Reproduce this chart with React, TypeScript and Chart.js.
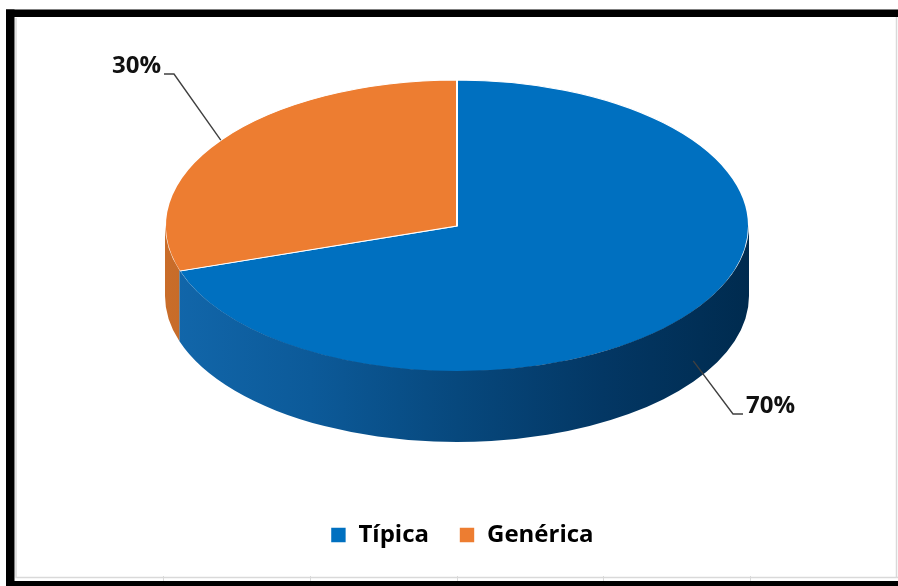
import { useEffect, useRef } from "react";
import { Chart, registerables } from "chart.js";

Chart.register(...registerables);

// Series
const categories = ["Típica", "Genérica"];
const shares = [70, 30];

// Colours: top face and side-wall gradient per slice
const faceColors = ["#0070C0", "#ED7D31"];
const wallStops: string[][] = [
  ["#1267ab", "#0c5a99", "#07487d", "#033764", "#002b4f"],
  ["#c96d2a", "#b75f21", "#a3521b", "#8f4616", "#7d3c12"],
];

// Tilted-disc geometry on the canvas
const DISC = { cx: 457, cy: 226, rx: 292, ry: 146, depth: 70 };

// Where each percentage label sits (elbow of the leader line and text anchor)
const LABEL_SPOTS = [
  { elbow: [733, 414], end: [743, 414], align: "left" as CanvasTextAlign },
  { elbow: [174, 74], end: [164, 74], align: "right" as CanvasTextAlign },
];

const FONT = "'Open Sans', 'DejaVu Sans', sans-serif";

const framePlugin = {
  id: "frame",
  beforeDraw(chart: any) {
    const { ctx, width, height } = chart;
    ctx.save();
    ctx.fillStyle = "#ffffff";
    ctx.fillRect(0, 0, width, height);
    // light inner border
    ctx.strokeStyle = "#d9d9d9";
    ctx.lineWidth = 1.5;
    ctx.beginPath();
    ctx.moveTo(16, 18);
    ctx.lineTo(16, 577.5);
    ctx.lineTo(898, 577.5);
    ctx.moveTo(896.5, 17);
    ctx.lineTo(896.5, 578);
    ctx.stroke();
    ctx.lineWidth = 1;
    [163, 310, 457, 603, 750].forEach((x) => {
      ctx.beginPath();
      ctx.moveTo(x + 0.5, 576);
      ctx.lineTo(x + 0.5, 581);
      ctx.stroke();
    });
    // heavy black frame
    ctx.fillStyle = "#000000";
    ctx.fillRect(6, 9.5, 892, 7.5);
    ctx.fillRect(6, 9.5, 8.5, 577);
    ctx.fillRect(6, 581, 892, 5);
    ctx.restore();
  },
};

const tiltPlugin = {
  id: "tilt",
  beforeDatasetsDraw(chart: any) {
    const arc = chart.getDatasetMeta(0).data[0];
    const { ctx } = chart;
    ctx.save();
    ctx.translate(DISC.cx, DISC.cy);
    ctx.scale(DISC.rx / arc.outerRadius, DISC.ry / arc.outerRadius);
    ctx.translate(-arc.x, -arc.y);
  },
  afterDatasetsDraw(chart: any) {
    const { ctx } = chart;
    ctx.restore();
    const { cx, cy, rx, ry, depth } = DISC;
    const meta = chart.getDatasetMeta(0);
    const values: number[] = chart.data.datasets[0].data;
    const total = values.reduce((a, b) => a + b, 0);

    // side walls for the front half of the disc
    meta.data.forEach((el: any, i: number) => {
      const a0 = Math.max(el.startAngle, 0);
      const a1 = Math.min(el.endAngle, Math.PI);
      if (a1 <= a0) return;
      const g = ctx.createLinearGradient(cx - rx, 0, cx + rx, 0);
      const stops = wallStops[i];
      stops.forEach((c, k) => g.addColorStop(k / (stops.length - 1), c));
      ctx.save();
      ctx.fillStyle = g;
      ctx.beginPath();
      ctx.ellipse(cx, cy - 1, rx, ry, 0, a0, a1);
      ctx.lineTo(cx + rx * Math.cos(a1), cy + depth + ry * Math.sin(a1));
      ctx.ellipse(cx, cy + depth, rx, ry, 0, a1, a0, true);
      ctx.closePath();
      ctx.fill();
      ctx.restore();
    });

    // percentage labels with leader lines
    meta.data.forEach((el: any, i: number) => {
      const mid = (el.startAngle + el.endAngle) / 2;
      const ax = cx + rx * Math.cos(mid);
      let ay = cy + ry * Math.sin(mid);
      if (Math.sin(mid) > 0) ay += depth * 0.7;
      const spot = LABEL_SPOTS[i];
      ctx.save();
      ctx.strokeStyle = "#404040";
      ctx.lineWidth = 1.4;
      ctx.beginPath();
      ctx.moveTo(ax, ay);
      ctx.lineTo(spot.elbow[0], spot.elbow[1]);
      ctx.lineTo(spot.end[0], spot.end[1]);
      ctx.stroke();
      ctx.fillStyle = "#111111";
      ctx.font = `bold 24px ${FONT}`;
      ctx.textAlign = spot.align;
      ctx.textBaseline = "alphabetic";
      const tx = spot.align === "left" ? spot.end[0] + 3 : spot.end[0] - 3;
      const pct = Math.round((values[i] / total) * 100);
      ctx.fillText(`${pct}%`, tx, spot.end[1] - 1);
      ctx.restore();
    });
  },
};

export default function App() {
  const canvasRef = useRef<HTMLCanvasElement | null>(null);

  useEffect(() => {
    const canvas = canvasRef.current;
    if (!canvas) return;
    const chart = new Chart(canvas, {
      type: "pie",
      data: {
        labels: categories,
        datasets: [
          {
            data: shares,
            backgroundColor: faceColors,
            borderColor: "#ffffff",
            borderWidth: 1.6,
            clip: false,
          } as any,
        ],
      },
      options: {
        responsive: false,
        maintainAspectRatio: false,
        animation: false,
        events: [],
        layout: { padding: { left: 26, right: 0, top: 20, bottom: 29 } },
        plugins: {
          tooltip: { enabled: false },
          legend: {
            position: "bottom",
            labels: {
              boxWidth: 16,
              boxHeight: 16,
              padding: 30,
              color: "#000000",
              font: { family: FONT, size: 24, weight: "bold" },
            },
          },
        },
      },
      plugins: [framePlugin, tiltPlugin],
    });
    return () => chart.destroy();
  }, []);

  return (
    <div
      style={{
        position: "fixed",
        left: 0,
        top: 0,
        width: 898,
        height: 586,
        background: "#ffffff",
      }}
    >
      <canvas ref={canvasRef} width={898} height={586} style={{ display: "block" }} />
    </div>
  );
}
